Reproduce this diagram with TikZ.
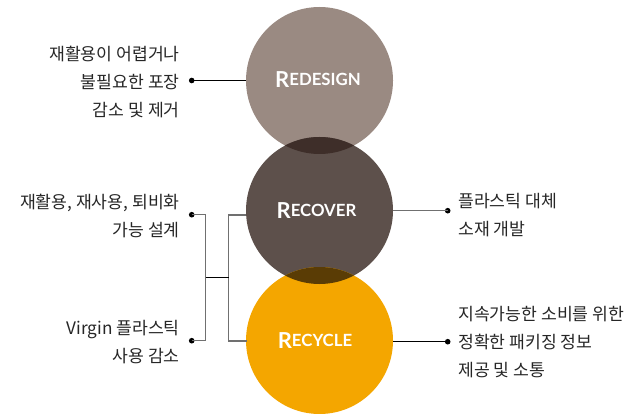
\documentclass[tikz,border=0pt]{standalone}
\usepackage{fontspec}
\setmainfont{Noto Sans CJK KR}
\newfontfamily\latofont{Lato}
\definecolor{cRedesign}{HTML}{9A8A82}
\definecolor{cRecover}{HTML}{5D504B}
\definecolor{cRecycle}{HTML}{F4A600}
\definecolor{cOvA}{HTML}{3E2E29}
\definecolor{cOvB}{HTML}{5A3C05}
\definecolor{cText}{HTML}{262626}
\definecolor{cLine}{HTML}{707070}
\newcommand{\circlabel}[2]{{\latofont\bfseries\fontsize{16.5}{16.5}\selectfont\raisebox{-2pt}{#1}}{\latofont\bfseries\fontsize{12.6}{14}\selectfont #2}}
\begin{document}
\begin{tikzpicture}[x=0.75pt,y=-0.75pt,
  desc/.style={font=\fontsize{12.9}{21}\selectfont, text=cText, inner sep=0pt},
  lbl/.style={text=white, inner sep=0pt},
  conn/.style={line width=0.8pt, draw=cLine},
  connk/.style={line width=0.8pt, draw=black},
  dotm/.style={circle, fill=black, inner sep=0pt, minimum size=4.2pt}]
\useasboundingbox (0,0) rectangle (630,413);
% circles
\fill[cRedesign] (319.5,80.5) circle (73.5);
\fill[cRecover] (319.5,210.5) circle (73.5);
\fill[cRecycle] (319.5,340.5) circle (73.5);
\begin{scope}
  \clip (319.5,80.5) circle (73.5);
  \fill[cOvA] (319.5,210.5) circle (73.5);
\end{scope}
\begin{scope}
  \clip (319.5,210.5) circle (73.5);
  \fill[cOvB] (319.5,340.5) circle (73.5);
\end{scope}
% circle anchors
\coordinate (c1w) at (246,80.5);
\coordinate (c2w) at (246,215);
\coordinate (c2e) at (393,210.7);
\coordinate (c3w) at (246.5,341);
\coordinate (c3e) at (393,341.7);
% labels
\node[lbl] (l1) at (318,80) {\circlabel{R}{EDESIGN}};
\node[lbl] (l2) at (316.5,211) {\circlabel{R}{ECOVER}};
\node[lbl] (l3) at (315,341) {\circlabel{R}{ECYCLE}};
% left descriptions
\node[desc, anchor=east, align=right] (t1) at (180,81.5) {재활용이 어렵거나\\불필요한 포장\\감소 및 제거};
\node[desc, anchor=east, align=right] (t2) at (180,216) {재활용, 재사용, 퇴비화\\가능 설계};
\node[desc, anchor=east, align=right] (t3) at (180,342.5) {Virgin 플라스틱\\사용 감소};
% right descriptions
\node[desc, anchor=west, align=left] (t4) at (458,215.5) {플라스틱 대체\\소재 개발};
\node[desc, anchor=west, align=left] (t5) at (458,342.5) {지속가능한 소비를 위한\\정확한 패키징 정보\\제공 및 소통};
% dots
\node[dotm] (d1) at (191.7,80.5) {};
\node[dotm] (d2) at (191.7,214.7) {};
\node[dotm] (d3) at (191.7,340.7) {};
\node[dotm] (d4) at (447.7,210.7) {};
\node[dotm] (d5) at (447.7,341.7) {};
\coordinate (jL) at (205.7,277.3);
\coordinate (jR) at (228.7,277.3);
% connectors
\draw[connk] (d1.center) -- (c1w);
\draw[conn] (d2.center) -| (jL) |- (d3.center);
\draw[conn] (c2w) -| (jR) |- (c3w);
\draw[connk] (jL) -- (jR);
\draw[conn] (c2e) -- (d4.center);
\draw[connk] (c3e) -- (d5.center);
\end{tikzpicture}
\end{document}
